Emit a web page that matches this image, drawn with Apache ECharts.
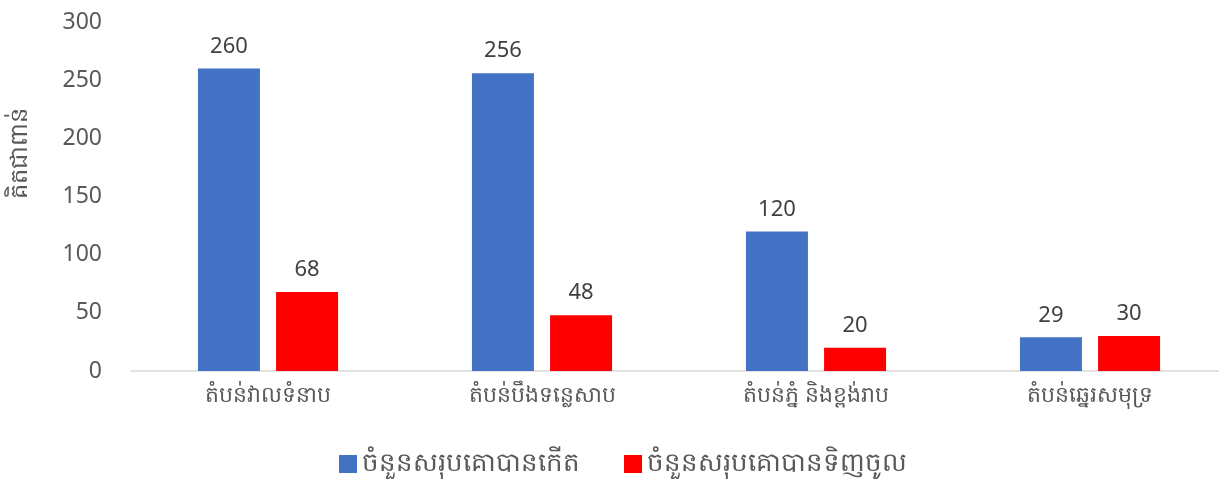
<!DOCTYPE html>
<html>
<head>
<meta charset="utf-8">
<script src="https://cdn.jsdelivr.net/npm/echarts@6/dist/echarts.min.js"></script>
<style>
  html, body { margin: 0; padding: 0; background: #fff; }
  #main { width: 1219px; height: 479px; }
</style>
</head>
<body>
<div id="main"></div>
<script>
// ប្រភេទតំបន់
var regions = ["តំបន់វាលទំនាប", "តំបន់បឹងទន្លេសាប", "តំបន់ភ្នំ និងខ្ពង់រាប", "តំបន់ឆ្នេរសមុទ្រ"];
var bornCattle = [260, 256, 120, 29];
var boughtCattle = [68, 48, 20, 30];
var seriesNames = ["ចំនួនសរុបគោបានកើត", "ចំនួនសរុបគោបានទិញចូល"];
var yTicks = [0, 50, 100, 150, 200, 250, 300];

var fontFam = "'Noto Sans', 'Open Sans', 'DejaVu Sans', sans-serif";
var myChart = echarts.init(document.getElementById("main"));

var option = {
  animation: false,
  textStyle: { fontFamily: fontFam },
  grid: {
    left: 131,
    top: 22,
    width: 1096,
    height: 349,
    outerBoundsMode: "none"
  },
  legend: {
    data: seriesNames,
    bottom: -3,
    left: 334,
    itemWidth: 18,
    itemHeight: 18,
    itemGap: 44,
    icon: "rect",
    textStyle: { fontSize: 26, color: "#595959" }
  },
  graphic: [{
    type: "text",
    x: 20,
    y: 153,
    rotation: Math.PI / 2,
    style: {
      text: "គិតជាពាន់",
      fontSize: 24,
      fill: "#595959",
      align: "center",
      verticalAlign: "middle",
      fontFamily: fontFam
    }
  }],
  xAxis: {
    type: "category",
    data: regions,
    axisLine: { lineStyle: { color: "#d9d9d9", width: 1.5 } },
    axisTick: { show: false },
    axisLabel: { fontSize: 22, color: "#595959", margin: 14 }
  },
  yAxis: {
    type: "value",
    min: yTicks[0],
    max: yTicks[yTicks.length - 1],
    interval: 50,
    splitLine: { show: false },
    axisLine: { show: false },
    axisTick: { show: false },
    axisLabel: { fontSize: 23, color: "#595959", margin: 29 }
  },
  series: [
    {
      name: seriesNames[0],
      type: "bar",
      data: bornCattle,
      barWidth: 62,
      barGap: "26%",
      itemStyle: { color: "#4472C4" },
      label: { show: true, position: "top", fontSize: 22, color: "#404040", distance: 11 }
    },
    {
      name: seriesNames[1],
      type: "bar",
      data: boughtCattle,
      barWidth: 62,
      itemStyle: { color: "#FF0000" },
      label: { show: true, position: "top", fontSize: 22, color: "#404040", distance: 11 }
    }
  ]
};

option && myChart.setOption(option);
</script>
</body>
</html>
